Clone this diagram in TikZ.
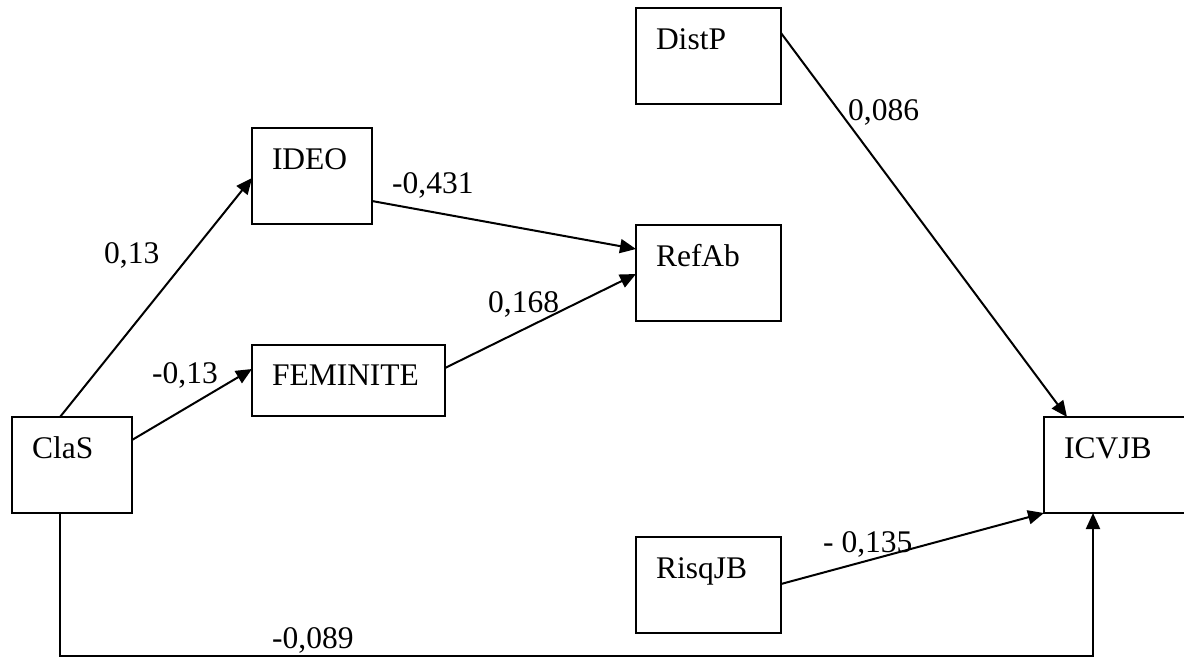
\documentclass[tikz,border=0pt]{standalone}
\usepackage{fontspec}
\setmainfont{Liberation Serif}
\usetikzlibrary{arrows.meta}
\begin{document}
\begin{tikzpicture}[x=1pt, y=-1pt,
  every node/.style={font=\fontsize{31.5}{36}\selectfont},
  var/.style={draw, line width=2.2pt, anchor=north west, outer sep=0pt,
    inner xsep=20pt, inner ysep=0pt, align=left,
    text height=41pt, text depth=55pt},
  coef/.style={anchor=base west, inner sep=0pt},
  path/.style={line width=2pt, -{Triangle[length=16pt, width=14pt]}}]
  \useasboundingbox (0,0) rectangle (1184,657);

  % variables
  \node[var, text width=80pt]  (clas)  at (12,417)  {ClaS};
  \node[var, text width=80pt]  (ideo)  at (252,128) {IDEO};
  \node[var, text width=153pt, text height=40pt, text depth=31pt]
                               (fem)   at (252,345) {FEMINITE};
  \node[var, text width=105pt] (distp) at (636,8)   {DistP};
  \node[var, text width=105pt] (refab) at (636,225) {RefAb};
  \node[var, text width=105pt] (risq)  at (636,537) {RisqJB};
  \node[var, text width=110pt] (icvjb) at (1044,417) {ICVJB};

  % paths
  \draw[path] (clas.north west) ++(48,0) -- ([yshift=-50pt]ideo.north west);
  \draw[path] ([yshift=-23pt]clas.north east) -- ([yshift=-24pt]fem.north west);
  \draw[path] ([yshift=-73pt]ideo.north east) -- ([yshift=-24pt]refab.north west);
  \draw[path] ([yshift=-23pt]fem.north east) -- ([yshift=-49pt]refab.north west);
  \draw[path] ([yshift=-25pt]distp.north east) -- ([xshift=23pt]icvjb.north west);
  \draw[path] ([yshift=-47pt]risq.north east) -- (icvjb.south west);
  \draw[path] (clas.south west) ++(48,0) -- ++(0,143) -| ([xshift=49pt]icvjb.south west);

  % coefficients
  \node[coef] (c1) at (104,263) {0,13};
  \node[coef] (c2) at (152,383) {-0,13};
  \node[coef] (c3) at (392,193) {-0,431};
  \node[coef] (c4) at (488,312) {0,168};
  \node[coef] (c5) at (848,120) {0,086};
  \node[coef] (c6) at (823,552) {- 0,135};
  \node[coef] (c7) at (272,648) {-0,089};
\end{tikzpicture}
\end{document}
